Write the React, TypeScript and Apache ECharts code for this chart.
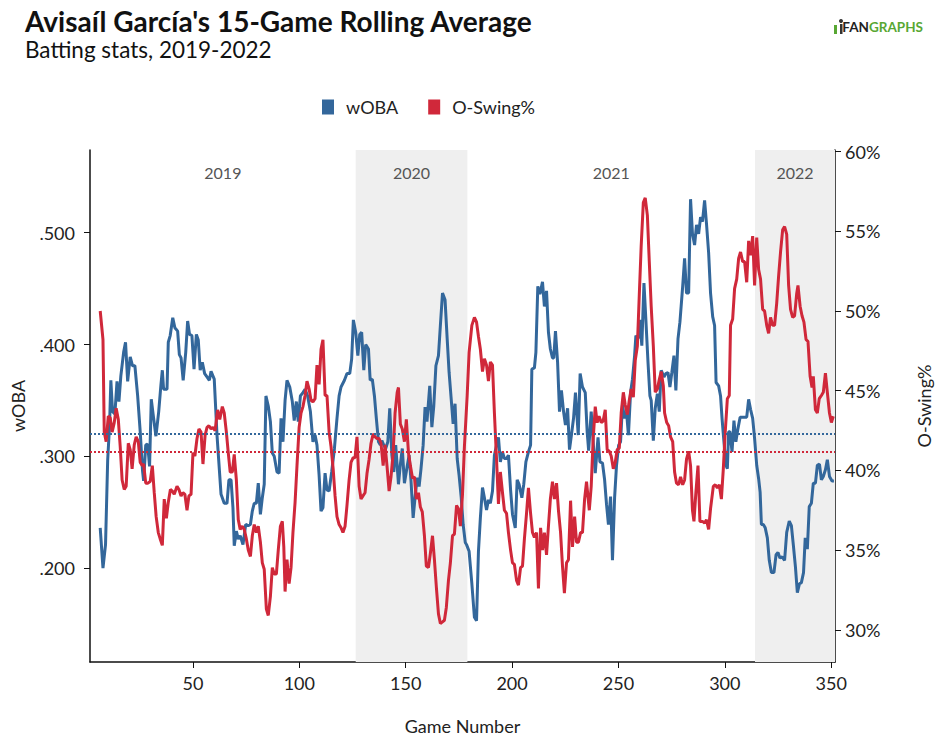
import React, { useEffect, useRef } from "react";
import * as echarts from "echarts";

const wobaGames = [
  6.4, 7.7, 8.9, 9.9, 10.8, 11.4, 12.2, 13.3, 14.3, 15.2, 16.1, 17.4, 18.3, 19.3, 20.5, 21.6, 22.7, 24.0, 25.2, 26.3,
  26.8, 27.8, 28.7, 29.6, 30.4, 31.5, 32.6, 33.9, 34.9, 35.6, 36.2, 37.8, 38.4, 39.3, 40.5, 41.5, 42.8, 43.6, 44.4, 45.4,
  46.6, 47.5, 48.4, 49.5, 50.5, 51.6, 52.5, 53.4, 54.4, 55.5, 56.6, 57.7, 58.5, 60.0, 61.3, 63.2, 64.7, 66.0, 66.9, 67.9,
  68.8, 69.4, 70.4, 71.3, 72.2, 73.5, 74.8, 76.0, 77.0, 77.9, 78.8, 79.8, 80.7, 81.7, 82.6, 83.5, 84.3, 85.4, 86.4, 87.3,
  88.2, 89.5, 90.5, 91.4, 92.3, 93.3, 94.2, 95.5, 96.7, 97.6, 98.6, 99.5, 100.5, 101.7, 102.7, 103.9, 105.2, 106.4, 107.4, 108.3,
  109.3, 110.2, 111.1, 112.1, 113.0, 114.0, 115.2, 116.5, 117.7, 118.7, 119.6, 121.2, 122.4, 123.7, 124.6, 125.4, 126.5, 127.5, 128.4, 129.3,
  130.3, 131.2, 132.5, 133.3, 134.3, 135.3, 136.2, 137.2, 138.1, 138.8, 139.7, 140.6, 141.6, 142.5, 143.5, 144.4, 145.3, 146.6, 147.5, 148.4,
  149.4, 150.7, 151.6, 152.5, 153.5, 154.4, 155.4, 156.3, 157.2, 158.2, 159.1, 160.0, 161.3, 162.3, 163.2, 164.2, 165.4, 166.3, 167.3, 168.5,
  169.5, 170.4, 171.4, 172.3, 173.2, 174.2, 175.1, 176.1, 177.0, 178.0, 178.6, 179.8, 181.1, 182.3, 183.3, 184.2, 185.1, 186.1, 187.0, 188.0,
  188.9, 189.8, 190.8, 191.7, 192.7, 193.6, 194.5, 195.5, 196.4, 197.4, 198.3, 199.3, 200.2, 201.5, 202.4, 203.3, 204.6, 205.5, 206.5, 207.7,
  208.7, 209.3, 210.5, 211.2, 212.1, 213.1, 214.3, 215.2, 216.2, 217.1, 218.0, 219.0, 219.6, 220.4, 221.4, 222.3, 223.2, 224.2, 225.1, 226.1,
  227.0, 227.9, 228.9, 229.8, 231.1, 232.0, 233.1, 234.4, 235.3, 236.0, 237.2, 238.2, 239.1, 240.4, 241.3, 242.5, 243.5, 244.4, 245.3, 246.3,
  247.2, 248.2, 249.1, 250.1, 251.0, 251.9, 252.9, 253.8, 254.7, 255.7, 256.6, 257.6, 258.2, 259.2, 260.1, 261.0, 262.0, 262.9, 263.9, 264.8,
  265.4, 266.4, 267.3, 268.3, 269.2, 270.1, 271.4, 272.3, 273.3, 274.2, 275.1, 276.1, 277.0, 278.0, 278.9, 280.2, 281.1, 282.0, 283.0, 283.9,
  284.8, 285.8, 286.7, 287.7, 288.6, 289.5, 290.5, 291.4, 292.4, 293.3, 294.3, 295.2, 295.9, 297.1, 298.0, 298.7, 299.6, 300.5, 301.2, 301.8,
  302.4, 303.4, 304.3, 305.2, 306.2, 307.2, 308.7, 310.3, 311.2, 312.1, 313.1, 314.0, 315.0, 315.9, 316.6, 317.2, 318.1, 319.0, 320.0, 320.9,
  321.9, 323.1, 324.1, 325.0, 325.9, 326.9, 328.1, 329.1, 330.3, 331.3, 332.2, 333.2, 334.1, 335.1, 336.0, 337.0, 337.8, 338.8, 339.7, 340.7,
  341.6, 342.6, 343.5, 344.5, 345.4, 346.3, 347.3, 348.2, 349.2, 350.4, 351.3,
];

const wobaValues = [
  0.236, 0.2, 0.221, 0.296, 0.328, 0.368, 0.34, 0.338, 0.367, 0.349, 0.372, 0.393, 0.402, 0.367, 0.389, 0.381, 0.381, 0.354, 0.322, 0.287,
  0.278, 0.31, 0.311, 0.291, 0.351, 0.334, 0.318, 0.34, 0.363, 0.377, 0.36, 0.36, 0.402, 0.408, 0.424, 0.415, 0.412, 0.391, 0.388, 0.368,
  0.393, 0.421, 0.409, 0.408, 0.378, 0.409, 0.404, 0.377, 0.384, 0.374, 0.371, 0.368, 0.376, 0.369, 0.319, 0.266, 0.258, 0.258, 0.279, 0.279,
  0.254, 0.22, 0.233, 0.226, 0.229, 0.221, 0.239, 0.238, 0.239, 0.251, 0.258, 0.258, 0.276, 0.248, 0.263, 0.275, 0.354, 0.345, 0.331, 0.303,
  0.3, 0.286, 0.285, 0.334, 0.313, 0.35, 0.368, 0.362, 0.349, 0.332, 0.349, 0.331, 0.354, 0.357, 0.36, 0.354, 0.34, 0.313, 0.319, 0.31,
  0.283, 0.251, 0.254, 0.285, 0.27, 0.269, 0.286, 0.307, 0.334, 0.354, 0.362, 0.368, 0.374, 0.374, 0.387, 0.422, 0.411, 0.39, 0.409, 0.411,
  0.377, 0.4, 0.396, 0.368, 0.369, 0.354, 0.334, 0.313, 0.31, 0.314, 0.31, 0.307, 0.313, 0.343, 0.301, 0.286, 0.31, 0.275, 0.293, 0.307,
  0.276, 0.291, 0.301, 0.278, 0.245, 0.263, 0.281, 0.273, 0.289, 0.31, 0.344, 0.331, 0.363, 0.326, 0.345, 0.381, 0.39, 0.417, 0.446, 0.44,
  0.405, 0.375, 0.351, 0.329, 0.347, 0.298, 0.283, 0.263, 0.239, 0.223, 0.221, 0.215, 0.186, 0.156, 0.153, 0.215, 0.245, 0.272, 0.263, 0.252,
  0.261, 0.258, 0.269, 0.301, 0.31, 0.317, 0.295, 0.304, 0.298, 0.298, 0.301, 0.27, 0.248, 0.236, 0.279, 0.275, 0.263, 0.275, 0.295, 0.304,
  0.31, 0.378, 0.379, 0.393, 0.452, 0.445, 0.456, 0.434, 0.448, 0.411, 0.396, 0.388, 0.388, 0.412, 0.384, 0.34, 0.359, 0.34, 0.328, 0.343,
  0.306, 0.319, 0.334, 0.357, 0.319, 0.374, 0.362, 0.357, 0.322, 0.305, 0.34, 0.311, 0.285, 0.317, 0.295, 0.294, 0.279, 0.257, 0.239, 0.264,
  0.207, 0.263, 0.292, 0.31, 0.313, 0.346, 0.334, 0.34, 0.319, 0.357, 0.369, 0.39, 0.408, 0.405, 0.422, 0.399, 0.455, 0.422, 0.384, 0.354,
  0.35, 0.314, 0.343, 0.356, 0.34, 0.377, 0.371, 0.374, 0.375, 0.362, 0.375, 0.39, 0.359, 0.405, 0.42, 0.452, 0.477, 0.446, 0.446, 0.53,
  0.499, 0.489, 0.507, 0.499, 0.514, 0.51, 0.529, 0.508, 0.482, 0.446, 0.425, 0.417, 0.366, 0.363, 0.354, 0.334, 0.313, 0.292, 0.289, 0.322,
  0.322, 0.304, 0.332, 0.313, 0.325, 0.335, 0.335, 0.335, 0.351, 0.342, 0.334, 0.316, 0.292, 0.28, 0.268, 0.239, 0.239, 0.236, 0.227, 0.207,
  0.196, 0.196, 0.212, 0.214, 0.209, 0.21, 0.207, 0.232, 0.242, 0.238, 0.221, 0.201, 0.178, 0.186, 0.187, 0.196, 0.227, 0.217, 0.255, 0.258,
  0.276, 0.276, 0.292, 0.293, 0.279, 0.282, 0.288, 0.297, 0.282, 0.278, 0.278,
];

const oswingGames = [
  6.4, 7.7, 8.3, 9.2, 10.2, 11.1, 12.0, 13.0, 13.9, 14.9, 15.8, 16.7, 17.7, 18.6, 19.6, 20.5, 21.4, 22.4, 23.3, 24.3,
  25.2, 26.2, 26.8, 27.8, 28.7, 29.9, 30.9, 31.8, 32.7, 33.7, 34.6, 35.6, 36.5, 37.5, 38.4, 39.4, 40.3, 41.2, 42.5, 43.4,
  44.4, 45.3, 46.2, 47.2, 48.1, 49.1, 50.0, 50.9, 51.9, 52.8, 53.8, 54.7, 55.7, 56.6, 57.5, 58.5, 59.4, 60.4, 61.6, 62.6,
  63.8, 64.7, 65.7, 66.6, 67.5, 68.5, 69.4, 70.4, 71.3, 72.2, 73.2, 74.1, 75.1, 76.0, 77.0, 77.9, 78.8, 79.8, 80.7, 81.7,
  82.6, 83.5, 84.5, 85.4, 86.4, 87.3, 88.2, 89.2, 90.1, 91.1, 92.0, 92.7, 93.3, 94.2, 95.2, 96.1, 97.0, 98.0, 98.9, 99.9,
  100.8, 101.7, 102.7, 103.6, 104.6, 105.5, 106.4, 107.4, 108.3, 109.3, 110.2, 111.1, 112.1, 113.0, 114.0, 114.9, 115.9, 116.8, 117.7, 118.7,
  119.6, 120.5, 121.5, 122.4, 123.4, 124.3, 125.3, 126.2, 127.1, 128.1, 129.0, 129.9, 130.9, 131.8, 132.8, 133.7, 134.7, 135.6, 136.5, 137.5,
  138.4, 139.4, 140.3, 141.2, 142.2, 143.1, 144.1, 145.0, 146.0, 146.6, 147.5, 148.4, 149.4, 150.3, 151.3, 152.2, 153.2, 154.1, 155.0, 156.0,
  156.9, 157.8, 158.8, 159.7, 160.7, 161.6, 162.6, 163.5, 164.4, 165.4, 166.3, 167.3, 168.2, 169.1, 170.1, 171.0, 172.0, 172.9, 173.9, 174.8,
  175.7, 176.7, 177.6, 178.9, 179.8, 181.1, 182.3, 183.3, 184.2, 185.1, 186.1, 187.0, 188.0, 188.9, 189.8, 190.8, 191.7, 192.7, 193.6, 194.5,
  195.5, 196.4, 197.4, 198.3, 199.3, 200.2, 201.1, 202.1, 203.0, 204.0, 204.9, 205.8, 206.8, 207.7, 208.7, 209.6, 210.5, 211.5, 212.4, 213.4,
  214.3, 215.2, 216.2, 217.1, 218.0, 219.0, 219.9, 220.9, 221.8, 222.8, 223.7, 224.6, 225.6, 226.5, 227.5, 228.4, 229.4, 230.3, 231.2, 232.2,
  233.1, 234.1, 235.0, 236.3, 237.2, 238.1, 239.1, 240.0, 240.9, 241.9, 242.8, 243.8, 244.7, 245.7, 246.6, 247.6, 248.5, 249.4, 250.4, 251.3,
  252.3, 253.2, 254.2, 255.1, 256.0, 257.0, 257.9, 258.9, 259.8, 260.7, 261.7, 262.6, 263.6, 264.5, 265.4, 266.4, 267.3, 268.3, 269.2, 270.1,
  271.1, 271.7, 272.7, 273.6, 274.5, 275.5, 276.4, 277.3, 278.3, 279.2, 280.2, 281.1, 282.0, 283.0, 283.9, 284.8, 285.5, 286.4, 287.4, 288.3,
  289.5, 290.5, 291.4, 292.4, 293.3, 294.6, 295.5, 296.5, 297.4, 298.4, 299.3, 300.2, 301.2, 302.1, 302.7, 303.7, 304.6, 305.6, 306.5, 307.4,
  308.4, 309.3, 310.3, 311.2, 312.1, 313.1, 314.0, 315.0, 315.9, 316.8, 317.8, 318.7, 319.7, 320.6, 321.5, 322.5, 323.4, 324.4, 325.3, 326.2,
  327.2, 328.1, 329.1, 330.0, 330.9, 331.9, 332.8, 333.8, 334.4, 335.4, 336.3, 337.2, 338.2, 339.1, 340.1, 341.0, 341.6, 342.6, 343.5, 344.4,
  345.4, 346.3, 347.3, 348.2, 349.2, 350.1, 351.0,
];

const oswingValues = [
  50.0, 48.2, 42.4, 41.8, 43.4, 43.3, 42.4, 43.0, 43.9, 43.2, 41.5, 39.4, 38.8, 39.0, 41.7, 41.3, 40.1, 41.6, 42.1, 41.8,
  40.5, 40.3, 40.4, 39.2, 39.2, 39.3, 40.3, 38.6, 37.1, 36.1, 35.7, 35.3, 38.2, 37.0, 38.0, 38.8, 38.7, 38.5, 39.0, 38.8,
  38.4, 38.6, 38.5, 37.5, 38.4, 38.5, 41.1, 40.9, 42.0, 42.6, 42.4, 40.4, 42.2, 42.7, 42.8, 42.6, 42.7, 42.5, 43.8, 43.2,
  44.0, 43.6, 42.4, 41.1, 39.9, 39.9, 41.0, 39.4, 36.9, 36.3, 36.5, 36.3, 35.7, 35.0, 34.6, 35.9, 36.6, 36.1, 36.5, 35.5,
  34.2, 33.8, 31.3, 30.9, 32.1, 33.9, 33.5, 33.5, 35.0, 36.5, 36.8, 35.2, 32.4, 34.4, 32.9, 33.9, 36.1, 38.0, 40.3, 42.7,
  43.6, 44.0, 44.7, 45.6, 45.1, 44.4, 44.3, 44.5, 46.6, 45.4, 47.6, 48.2, 44.7, 44.7, 42.4, 41.5, 40.1, 38.4, 37.1, 36.6,
  36.4, 36.1, 36.5, 37.8, 39.4, 40.5, 40.8, 40.8, 42.1, 39.0, 38.2, 38.4, 38.6, 39.8, 40.7, 41.7, 42.3, 42.1, 42.0, 42.0,
  41.7, 40.3, 41.6, 40.3, 38.7, 39.6, 41.1, 43.6, 44.9, 45.2, 42.9, 42.6, 41.8, 43.2, 41.1, 40.3, 39.5, 39.6, 38.2, 38.6,
  37.7, 37.4, 35.9, 34.0, 33.9, 34.8, 35.9, 34.4, 32.7, 31.0, 30.4, 30.5, 30.6, 31.4, 33.1, 34.2, 35.9, 36.0, 37.8, 37.6,
  36.5, 38.5, 41.5, 44.7, 47.4, 49.1, 49.6, 49.3, 48.4, 47.6, 46.2, 47.0, 46.6, 45.6, 46.8, 46.6, 43.6, 40.7, 37.9, 39.9,
  38.6, 37.5, 37.3, 36.1, 35.0, 34.2, 34.1, 33.1, 32.8, 33.9, 34.0, 35.7, 37.3, 38.9, 37.3, 36.1, 35.8, 36.1, 32.6, 36.4,
  35.0, 36.1, 34.7, 36.5, 38.2, 39.3, 38.2, 39.2, 37.5, 36.1, 34.0, 32.3, 34.2, 34.4, 38.1, 35.2, 37.1, 35.5, 35.5, 36.1,
  36.1, 38.2, 39.3, 37.5, 39.0, 41.9, 44.0, 43.0, 43.4, 43.0, 43.1, 43.8, 41.3, 41.2, 40.9, 40.1, 40.5, 41.3, 41.4, 43.6,
  44.9, 44.1, 43.5, 44.4, 45.1, 44.6, 46.9, 47.8, 51.0, 54.1, 56.8, 57.1, 56.0, 53.1, 50.3, 47.8, 44.9, 45.1, 45.7, 46.2,
  45.3, 43.6, 43.0, 42.8, 42.1, 41.8, 39.9, 39.2, 39.1, 39.6, 39.1, 39.4, 40.7, 41.2, 40.3, 37.5, 36.8, 38.6, 40.3, 36.8,
  36.8, 36.7, 36.9, 36.3, 37.6, 39.0, 39.1, 38.9, 39.1, 38.2, 40.1, 42.4, 44.5, 44.7, 49.1, 49.5, 51.4, 52.0, 53.3, 53.7,
  53.1, 53.1, 51.8, 54.4, 53.5, 54.7, 51.6, 54.6, 52.6, 52.0, 50.1, 50.0, 49.1, 48.6, 49.6, 49.1, 49.1, 50.5, 52.2, 53.7,
  55.1, 55.3, 54.8, 51.6, 50.1, 49.6, 49.7, 51.1, 51.6, 50.3, 49.7, 49.3, 48.2, 48.1, 45.9, 45.2, 45.9, 43.8, 43.6, 44.5,
  44.7, 44.9, 46.1, 44.9, 43.6, 43.0, 43.4,
];

const gameTicks = [50, 100, 150, 200, 250, 300, 350];
const wobaTicks = [0.2, 0.3, 0.4, 0.5];
const oswingTicks = [30, 35, 40, 45, 50, 55, 60];

const seasonNames = ["2019", "2020", "2021", "2022"];
const seasonStarts = [1.6, 126.5, 179, 314.2];
const seasonEnds = [126.5, 179, 314.2, 351.8];
const seasonShaded = [false, true, false, true];

const wobaAverage = 0.322;
const oswingAverage = 41.2;

const BLUE = "#33679b";
const RED = "#d0283a";

export default function App() {
  const ref = useRef<HTMLDivElement>(null);

  useEffect(() => {
    if (!ref.current) return;
    const chart = echarts.init(ref.current, undefined, { renderer: "svg" });
    const font = "Lato, 'Noto Sans', sans-serif";

    const areas = seasonNames.map((name, i) => [
      {
        name,
        xAxis: seasonStarts[i],
        itemStyle: { color: seasonShaded[i] ? "#efefef" : "rgba(0,0,0,0)" },
      },
      { xAxis: seasonEnds[i] },
    ]);

    chart.setOption({
      animation: false,
      backgroundColor: "#ffffff",
      textStyle: { fontFamily: font },
      title: {
        text: "Avisaíl García's 15-Game Rolling Average",
        subtext: "Batting stats, 2019-2022",
        left: 20,
        top: 2,
        itemGap: 3,
        textStyle: { fontFamily: font, fontSize: 28, fontWeight: "bold", color: "#111" },
        subtextStyle: { fontFamily: font, fontSize: 22.5, color: "#111" },
      },
      legend: {
        data: ["wOBA", "O-Swing%"],
        left: 317,
        top: 93,
        icon: "rect",
        itemWidth: 12,
        itemHeight: 15,
        itemGap: 30,
        itemStyle: { borderWidth: 0 },
        textStyle: { fontFamily: font, fontSize: 18, color: "#222", padding: [0, 0, 0, 7] },
      },
      graphic: [
        { type: "rect", shape: { x: 834, y: 25, width: 3, height: 9 }, style: { fill: "#58a733" } },
        { type: "circle", shape: { cx: 841, cy: 21, r: 2 }, style: { fill: "#333" } },
        { type: "rect", shape: { x: 840, y: 24, width: 2.5, height: 10 }, style: { fill: "#333" } },
        {
          type: "text",
          x: 923,
          y: 27,
          style: {
            text: "{a|FAN}{b|GRAPHS}",
            align: "right",
            verticalAlign: "middle",
            rich: {
              a: { fill: "#222", font: `bold 13.5px ${font}` },
              b: { fill: "#58a733", font: `bold 13.5px ${font}` },
            },
          },
        },
      ],
      grid: { left: 90, right: 108, top: 150, bottom: 76 },
      xAxis: {
        type: "value",
        min: 1.6,
        max: 351.8,
        name: "Game Number",
        nameLocation: "middle",
        nameGap: 55,
        nameTextStyle: { fontFamily: font, fontSize: 18, color: "#222" },
        axisLine: { show: true, lineStyle: { color: "#111", width: 1.5 } },
        axisTick: { show: true, customValues: gameTicks, length: 6, lineStyle: { color: "#111" } },
        axisLabel: { customValues: gameTicks, fontSize: 18, color: "#222", margin: 12, fontFamily: font },
        splitLine: { show: false },
      },
      yAxis: [
        {
          type: "value",
          position: "left",
          min: 0.116,
          max: 0.574,
          name: "wOBA",
          nameLocation: "middle",
          nameGap: 63,
          nameRotate: 90,
          nameTextStyle: { fontFamily: font, fontSize: 18, color: "#222" },
          axisLine: { show: true, lineStyle: { color: "#111", width: 1.5 } },
          axisTick: { show: true, customValues: wobaTicks, length: 6, lineStyle: { color: "#111" } },
          axisLabel: {
            customValues: wobaTicks,
            fontSize: 18,
            color: "#222",
            margin: 15,
            fontFamily: font,
            formatter: (v: number) => v.toFixed(3).replace(/^0/, ""),
          },
          splitLine: { show: false },
        },
        {
          type: "value",
          position: "right",
          min: 27.98,
          max: 60.1,
          name: "O-Swing%",
          nameLocation: "middle",
          nameGap: 80,
          nameRotate: 90,
          nameTextStyle: { fontFamily: font, fontSize: 18, color: "#222" },
          axisLine: { show: true, lineStyle: { color: "#111", width: 1.5 } },
          axisTick: { show: true, customValues: oswingTicks, length: 6, lineStyle: { color: "#111" } },
          axisLabel: {
            customValues: oswingTicks,
            fontSize: 18,
            color: "#222",
            margin: 10,
            fontFamily: font,
            formatter: (v: number) => `${v}%`,
          },
          splitLine: { show: false },
        },
      ],
      series: [
        {
          name: "wOBA",
          type: "line",
          yAxisIndex: 0,
          data: wobaGames.map((g, i) => [g, wobaValues[i]]),
          showSymbol: false,
          symbol: "none",
          color: BLUE,
          lineStyle: { color: BLUE, width: 3 },
          z: 3,
          markArea: {
            silent: true,
            label: {
              show: true,
              position: "insideTop",
              distance: 14,
              color: "#555",
              fontSize: 16,
              fontFamily: font,
            },
            data: areas,
          },
          markLine: {
            silent: true,
            symbol: "none",
            label: { show: false },
            lineStyle: { color: BLUE, type: "dotted", width: 2 },
            data: [{ yAxis: wobaAverage }],
          },
        },
        {
          name: "O-Swing%",
          type: "line",
          yAxisIndex: 1,
          data: oswingGames.map((g, i) => [g, oswingValues[i]]),
          showSymbol: false,
          symbol: "none",
          color: RED,
          lineStyle: { color: RED, width: 3 },
          z: 4,
          markLine: {
            silent: true,
            symbol: "none",
            label: { show: false },
            lineStyle: { color: RED, type: "dotted", width: 2 },
            data: [{ yAxis: oswingAverage }],
          },
        },
      ],
    });

    return () => chart.dispose();
  }, []);

  return (
    <div
      ref={ref}
      style={{ position: "fixed", left: 0, top: 0, width: 943, height: 740, background: "#fff" }}
    />
  );
}
